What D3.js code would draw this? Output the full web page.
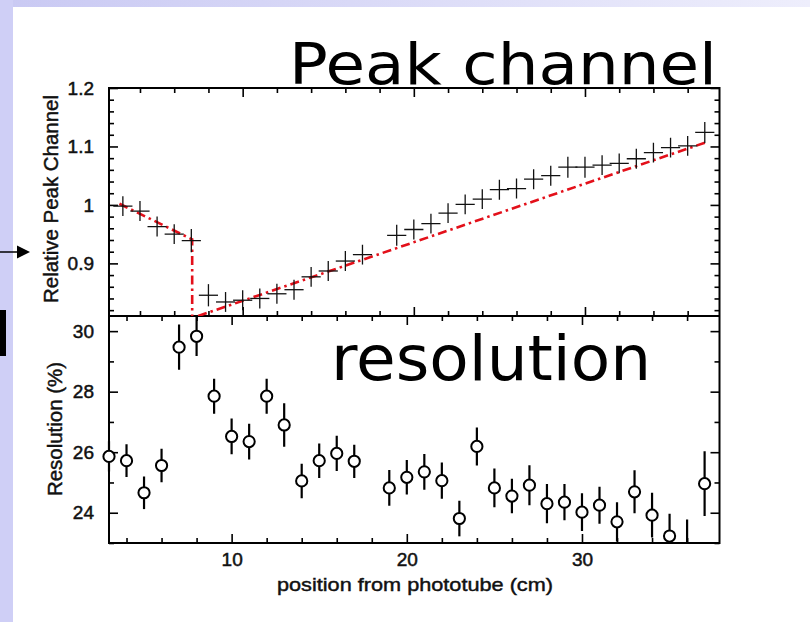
<!DOCTYPE html>
<html>
<head>
<meta charset="utf-8">
<script src="https://cdn.jsdelivr.net/npm/d3@7"></script>
<style>
body { margin: 0; background: #fff; }
svg { display: block; }
</style>
</head>
<body>
<svg id="chart" width="810" height="622"></svg>
<script>
const positions = [3, 4, 5, 6, 7, 8, 9, 10, 11, 12, 13, 14, 15, 16, 17, 19, 20, 21, 22, 23, 24, 25, 26, 27, 28, 29, 30, 31, 32, 33, 34, 35, 36, 37];
const peak_channel = [0.998, 0.9895, 0.963, 0.950, 0.939, 0.8455, 0.834, 0.837, 0.840, 0.848, 0.855, 0.877, 0.887, 0.904, 0.915,
    0.948, 0.958, 0.968, 0.986, 1.001, 1.010, 1.026, 1.028, 1.044, 1.050, 1.0645, 1.0645, 1.068, 1.071, 1.079, 1.0895, 1.098, 1.101, 1.124];
const peak_error = [0.017, 0.017, 0.017, 0.017, 0.02, 0.019, 0.017, 0.017, 0.017, 0.017, 0.017, 0.017, 0.017, 0.017, 0.017,
    0.018, 0.017, 0.017, 0.017, 0.017, 0.017, 0.017, 0.017, 0.017, 0.017, 0.018, 0.018, 0.017, 0.017, 0.017, 0.017, 0.017, 0.017, 0.018];
const position_error = 0.56;
const resolution = [25.86, 25.72, 24.66, 25.56, 29.47, 29.83, 27.85, 26.52, 26.35, 27.85, 26.9, 25.05, 25.72, 25.96, 25.70,
    24.82, 25.17, 25.35, 25.06, 23.81, 26.19, 24.82, 24.55, 24.91, 24.30, 24.35, 24.02, 24.25, 23.70, 24.69, 23.92, 23.23, 22.75, 24.96];
const resolution_error = [0.5, 0.54, 0.54, 0.55, 0.75, 0.65, 0.58, 0.59, 0.59, 0.58, 0.72, 0.57, 0.57, 0.58, 0.55,
    0.59, 0.57, 0.59, 0.6, 0.59, 0.63, 0.64, 0.57, 0.66, 0.65, 0.6, 0.62, 0.61, 0.65, 0.71, 0.74, 0.74, 1.03, 1.07];
const fit_before = [[2.8, 1.002], [7.05, 0.941], [7.05, 0.79]];
const fit_after = [[7.4, 0.81], [37.06, 1.107]];
const peak_ticks = [0.9, 1, 1.1, 1.2];
const resolution_ticks = [24, 26, 28, 30];
const position_ticks = [10, 20, 30];

const svg = d3.select("#chart");
const frame_left = 109, frame_right = 719.5, frame_top = 88, frame_mid = 316, frame_bottom = 543;
const label_font = "'Liberation Sans', Arial, sans-serif";

const x_peak = d3.scaleLinear().domain([2.19, 37.86]).range([frame_left, frame_right]);
const x_res = d3.scaleLinear().domain([3, 37.85]).range([frame_left, frame_right]);
const y_peak = d3.scaleLinear().domain([0.81, 1.2]).range([frame_mid, frame_top]);
const y_res = d3.scaleLinear().domain([23, 30.5]).range([frame_bottom, frame_mid]);

// slide background
const defs = svg.append("defs");
const grad = defs.append("linearGradient").attr("id", "band");
grad.append("stop").attr("offset", "0%").attr("stop-color", "#c9c9f3");
grad.append("stop").attr("offset", "100%").attr("stop-color", "#eeeefc");
svg.append("rect").attr("x", 0).attr("y", 0).attr("width", 810).attr("height", 7).attr("fill", "url(#band)");
svg.append("rect").attr("x", 0).attr("y", 0).attr("width", 13).attr("height", 622).attr("fill", "#cfcff6");
svg.append("rect").attr("x", 0).attr("y", 310).attr("width", 6).attr("height", 46).attr("fill", "black");
svg.append("line").attr("x1", 0).attr("y1", 252).attr("x2", 19).attr("y2", 252)
    .style("stroke", "black").attr("stroke-width", 1.5);
svg.append("path").attr("d", "M17,245.5L30,252L17,258.5Z").attr("fill", "black");

defs.append("clipPath").attr("id", "clip_peak").append("rect")
    .attr("x", frame_left).attr("y", frame_top).attr("width", frame_right - frame_left).attr("height", frame_mid - frame_top);
defs.append("clipPath").attr("id", "clip_res").append("rect")
    .attr("x", frame_left - 8).attr("y", frame_mid).attr("width", frame_right - frame_left + 16).attr("height", frame_bottom - frame_mid);

const tick_axis = (axis, scale, values, size, tx, ty) => {
    svg.append("g")
        .attr("transform", `translate(${tx},${ty})`)
        .call(axis(scale).tickValues(values).tickSizeInner(-size).tickSizeOuter(0).tickFormat(""))
        .call(g => g.select(".domain").remove())
        .call(g => g.selectAll("line").attr("stroke", "black").attr("stroke-width", 1.6));
};

const peak_minor = d3.range(0.82, 1.2, 0.02).filter(v => Math.abs(v * 10 - Math.round(v * 10)) > 0.01);
const res_minor = [23, 25, 27, 29];
const pos_minor = d3.range(4, 38, 2).filter(v => v % 10 !== 0);

// upper panel ticks
tick_axis(d3.axisLeft, y_peak, peak_minor, 5, frame_left, 0);
tick_axis(d3.axisLeft, y_peak, peak_ticks, 9, frame_left, 0);
tick_axis(d3.axisRight, y_peak, peak_minor, 5, frame_right, 0);
tick_axis(d3.axisRight, y_peak, peak_ticks, 9, frame_right, 0);
tick_axis(d3.axisTop, x_peak, pos_minor, 5, 0, frame_top);
tick_axis(d3.axisTop, x_peak, position_ticks, 9, 0, frame_top);
tick_axis(d3.axisBottom, x_peak, pos_minor, 5, 0, frame_mid);
tick_axis(d3.axisBottom, x_peak, position_ticks, 9, 0, frame_mid);

// lower panel ticks
tick_axis(d3.axisLeft, y_res, res_minor, 5, frame_left, 0);
tick_axis(d3.axisLeft, y_res, resolution_ticks, 9, frame_left, 0);
tick_axis(d3.axisRight, y_res, res_minor, 5, frame_right, 0);
tick_axis(d3.axisRight, y_res, resolution_ticks, 9, frame_right, 0);
tick_axis(d3.axisTop, x_res, pos_minor, 5, 0, frame_mid);
tick_axis(d3.axisTop, x_res, position_ticks, 9, 0, frame_mid);
tick_axis(d3.axisBottom, x_res, pos_minor, 5, 0, frame_bottom);
tick_axis(d3.axisBottom, x_res, position_ticks, 9, 0, frame_bottom);

// tick labels
const label_axis = (axis, scale, values, tx, ty, pad) => {
    svg.append("g")
        .attr("transform", `translate(${tx},${ty})`)
        .call(axis(scale).tickValues(values).tickSize(0).tickPadding(pad).tickFormat(d => String(d)))
        .call(g => g.select(".domain").remove())
        .call(g => g.selectAll("text")
            .style("font-family", label_font)
            .style("font-size", "19px")
            .attr("fill", "#111")
            .attr("stroke", "#111")
            .attr("stroke-width", 0.5));
};
label_axis(d3.axisLeft, y_peak, peak_ticks, frame_left, 0, 15);
label_axis(d3.axisLeft, y_res, resolution_ticks, frame_left, 0, 15);
label_axis(d3.axisBottom, x_res, position_ticks, 0, frame_bottom, 10);

// frames
svg.append("rect").attr("x", frame_left).attr("y", frame_top)
    .attr("width", frame_right - frame_left).attr("height", frame_bottom - frame_top)
    .attr("fill", "none").style("stroke", "black").attr("stroke-width", 2);
svg.append("line").attr("x1", frame_left).attr("x2", frame_right).attr("y1", frame_mid).attr("y2", frame_mid)
    .style("stroke", "black").attr("stroke-width", 2);

// peak channel fit
const peak_line = d3.line().x(d => x_peak(d[0])).y(d => y_peak(d[1]));
const peak_group = svg.append("g").attr("clip-path", "url(#clip_peak)");
[fit_before, fit_after].forEach(fit => {
    peak_group.append("path")
        .datum(fit)
        .attr("d", peak_line)
        .attr("fill", "none")
        .style("stroke", "#e3101a")
        .attr("stroke-width", 2.6)
        .attr("stroke-dasharray", "9,4,2.5,4");
});

// peak channel crosses
const peak_points = positions.map((p, i) => ({ x: p, y: peak_channel[i], e: peak_error[i] }));
peak_group.selectAll(".vbar").data(peak_points).join("line").attr("class", "vbar")
    .attr("x1", d => x_peak(d.x)).attr("x2", d => x_peak(d.x))
    .attr("y1", d => y_peak(d.y - d.e)).attr("y2", d => y_peak(d.y + d.e))
    .style("stroke", "#111").attr("stroke-width", 1.3);
peak_group.selectAll(".hbar").data(peak_points).join("line").attr("class", "hbar")
    .attr("x1", d => x_peak(d.x - position_error)).attr("x2", d => x_peak(d.x + position_error))
    .attr("y1", d => y_peak(d.y)).attr("y2", d => y_peak(d.y))
    .style("stroke", "#111").attr("stroke-width", 1.3);

// resolution points
const res_points = positions.map((p, i) => ({ x: p, y: resolution[i], e: resolution_error[i] }));
const res_group = svg.append("g").attr("clip-path", "url(#clip_res)");
res_group.selectAll("line").data(res_points).join("line")
    .attr("x1", d => x_res(d.x)).attr("x2", d => x_res(d.x))
    .attr("y1", d => y_res(d.y - d.e)).attr("y2", d => y_res(d.y + d.e))
    .style("stroke", "black").attr("stroke-width", 2.2);
res_group.selectAll("circle").data(res_points).join("circle")
    .attr("cx", d => x_res(d.x)).attr("cy", d => y_res(d.y)).attr("r", 5.6)
    .attr("fill", "white").style("stroke", "black").attr("stroke-width", 2);

// axis titles
const axis_title = (text, transform, size, length) => {
    svg.append("text")
        .attr("transform", transform)
        .style("text-anchor", "middle")
        .style("font-family", label_font)
        .style("font-size", size + "px")
        .attr("fill", "#111")
        .attr("stroke", "#111")
        .attr("stroke-width", 0.45)
        .attr("textLength", length)
        .attr("lengthAdjust", "spacingAndGlyphs")
        .text(text);
};
axis_title("Relative Peak Channel", "translate(58,199) rotate(-90)", 20, 208);
axis_title("Resolution (%)", "translate(62,429) rotate(-90)", 20, 134);
axis_title("position from phototube (cm)", "translate(415,591)", 19, 276);

// slide titles
svg.append("text")
    .attr("x", 289)
    .attr("y", 83.5)
    .style("font-family", "'DejaVu Sans', Verdana, sans-serif")
    .style("font-size", "57px")
    .attr("textLength", 428)
    .attr("lengthAdjust", "spacingAndGlyphs")
    .text("Peak channel");
svg.append("text")
    .attr("x", 331)
    .attr("y", 380)
    .style("font-family", "'DejaVu Sans', Verdana, sans-serif")
    .style("font-size", "62px")
    .attr("textLength", 320)
    .attr("lengthAdjust", "spacingAndGlyphs")
    .text("resolution");
</script>
</body>
</html>
